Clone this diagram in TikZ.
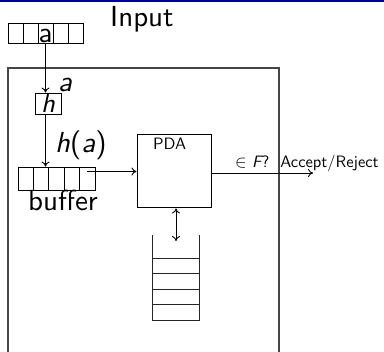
\documentclass[tikz,border=0pt]{standalone}
\usepackage{fontspec}
\setsansfont{lmsans10-regular.otf}[ItalicFont=lmsans10-oblique.otf,BoldFont=lmsans10-bold.otf]
\usetikzlibrary{arrows.meta}
\definecolor{barblue}{RGB}{0,0,150}
\definecolor{boxgray}{RGB}{70,70,70}
\begin{document}
\begin{tikzpicture}[x=1pt,y=-1pt,
  big/.style={font=\sffamily\fontsize{29}{31}\selectfont},
  small/.style={font=\sffamily\fontsize{16.5}{18}\selectfont},
  cell/.style={draw,line width=0.9pt,inner sep=0pt,minimum height=20pt},
  tapecell/.style={cell,minimum width=15pt},
  bufcell/.style={cell,minimum width=15.4pt,minimum height=23pt},
  tip/.tip={To[length=5pt,width=8pt]},
  conn/.style={line width=0.9pt,-tip},
  stackline/.style={line width=0.9pt,draw=black!85}
]
\useasboundingbox (0,0) rectangle (384,352);
\fill[barblue] (0,0) rectangle (384,2.5);
% outer machine box (runs beyond the bottom)
\draw[line width=1.3pt,draw=boxgray] (279,400) -- (279,68) -- (8,68) -- (8,400);
% input tape
\foreach \i in {1,...,5}{
  \node[tapecell] (tape\i) at ({8+7.5+15*(\i-1)},33) {};
}
\node[big,anchor=base,inner sep=0pt] (ta) at (tape3.south) [yshift=1pt] {a};
\node[big,anchor=base west,inner sep=0pt] (input) at (110,27) {Input};
% h box
\node[draw,line width=0.9pt,inner sep=0pt,minimum width=26pt,minimum height=21pt,
  font=\sffamily\fontsize{27}{29}\selectfont,text height=18pt,text depth=0pt] (h) at (48,103.5) {\itshape h};
\draw[conn] (tape3.south) -- (tape3.south |- h.north);
\node[big,inner sep=0pt] (la) at (65,85) {\itshape a};
% buffer
\foreach \i in {1,...,5}{
  \node[bufcell] (buf\i) at ({18+7.7+15.4*(\i-1)},178.5) {};
}
\coordinate (hs) at (h.south -| tape3.south);
\draw[conn] (hs) -- (hs |- buf1.north);
\node[big,inner sep=0pt,anchor=base west] (lha) at (55,153) {{\itshape h}({\itshape a})};
\node[big,inner sep=0pt,anchor=base west] (lbuf) at (28,211) {buffer};
% PDA
\node[draw,line width=1pt,minimum width=74pt,minimum height=73pt,inner sep=0pt] (pda) at (174,171.5) {};
\node[small,inner sep=0pt,anchor=base west] (lpda) at (153,150) {PDA};
\coordinate (bout) at (buf5.center |- pda.west);
\draw[conn] (bout) -- (pda.west);
\coordinate (acc) at (313,173);
\draw[conn] (pda.east |- acc) -- (acc);
\node[small,inner sep=0pt,anchor=base west] (lacc) at (235,168) {$\in$\ {\itshape F}?\ \ Accept/Reject};
% stack
\coordinate (st) at (176,241);
\draw[stackline] (152,235) -- (152,320) -- (199,320) -- (199,235);
\foreach \y in {258,273,289,304}{
  \draw[stackline] (152,\y) -- (199,\y);
}
\draw[line width=0.9pt,tip-tip] (st |- pda.south) -- (st);
\end{tikzpicture}
\end{document}
